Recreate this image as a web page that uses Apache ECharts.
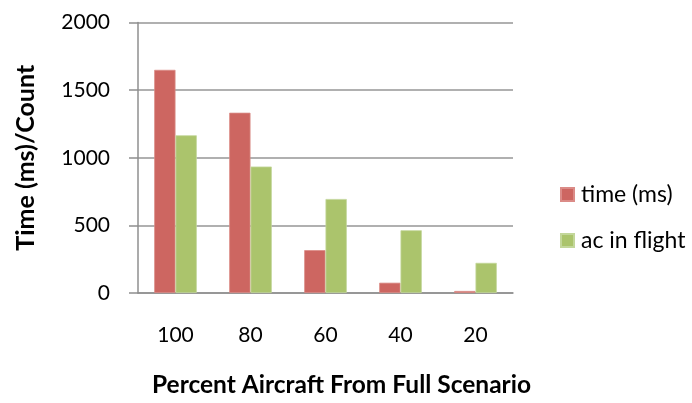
<!DOCTYPE html>
<html>
<head>
<meta charset="utf-8">
<script src="https://cdn.jsdelivr.net/npm/echarts@6/dist/echarts.min.js"></script>
<style>
  html, body { margin: 0; padding: 0; background: #fff; }
  #chart { width: 692px; height: 403px; }
</style>
</head>
<body>
<div id="chart"></div>
<script>
// Share of the full scenario's aircraft that were simulated
const categories = ['100', '80', '60', '40', '20'];
// Run time in milliseconds
const timeMs = [1650, 1333, 317, 76, 15];
// Number of aircraft in flight
const acInFlight = [1166, 935, 695, 464, 223];
const yTicks = { min: 0, max: 2000, interval: 500 };

const FONT = 'Lato, "Open Sans", sans-serif';
const RED = '#CD6661';
const GREEN = '#ABC46C';
const AXIS_GREY = '#8F8F8F';

const chart = echarts.init(document.getElementById('chart'), null, { renderer: 'canvas' });
chart.setOption({
  animation: false,
  backgroundColor: '#ffffff',
  textStyle: { fontFamily: FONT },
  grid: { left: 138, right: 179, top: 22.5, bottom: 108.5, containLabel: false },
  legend: {
    orient: 'vertical',
    left: 555,
    top: 178,
    itemWidth: 13,
    itemHeight: 13,
    itemGap: 23,
    icon: 'rect',
    textStyle: { fontFamily: FONT, fontSize: 23, color: '#000', padding: [0, 0, 0, 2] },
    data: ['time (ms)', 'ac in flight']
  },
  xAxis: {
    type: 'category',
    data: categories,
    name: 'Percent Aircraft From Full Scenario',
    nameLocation: 'middle',
    nameGap: 80,
    nameTextStyle: {
      fontFamily: FONT, fontWeight: 'bold', fontSize: 24.5, color: '#000',
      padding: [0, 0, 0, 32]
    },
    axisLine: { lineStyle: { color: AXIS_GREY, width: 1.5 } },
    axisTick: { show: false },
    axisLabel: { fontFamily: FONT, fontSize: 21, color: '#000', margin: 32 }
  },
  yAxis: {
    type: 'value',
    min: yTicks.min,
    max: yTicks.max,
    interval: yTicks.interval,
    name: 'Time (ms)/Count',
    nameLocation: 'middle',
    nameGap: 100,
    nameRotate: 90,
    nameTextStyle: { fontFamily: FONT, fontWeight: 'bold', fontSize: 25, color: '#000' },
    axisLine: { show: true, lineStyle: { color: AXIS_GREY, width: 1.5 } },
    axisTick: { show: true, length: 9, lineStyle: { color: AXIS_GREY, width: 1.5 } },
    axisLabel: {
      fontFamily: FONT, fontSize: 21, color: '#000', margin: 28,
      formatter: (v) => String(v)
    },
    splitLine: { lineStyle: { color: '#969696', width: 1.5 } }
  },
  series: [
    {
      name: 'time (ms)',
      type: 'bar',
      data: timeMs,
      barWidth: 21.3,
      barGap: '0%',
      itemStyle: { color: RED, borderColor: '#DB8B87', borderWidth: 0.8 }
    },
    {
      name: 'ac in flight',
      type: 'bar',
      data: acInFlight,
      barWidth: 21.3,
      barGap: '0%',
      itemStyle: { color: GREEN, borderColor: '#C3D79A', borderWidth: 0.8 }
    }
  ]
});
</script>
</body>
</html>
